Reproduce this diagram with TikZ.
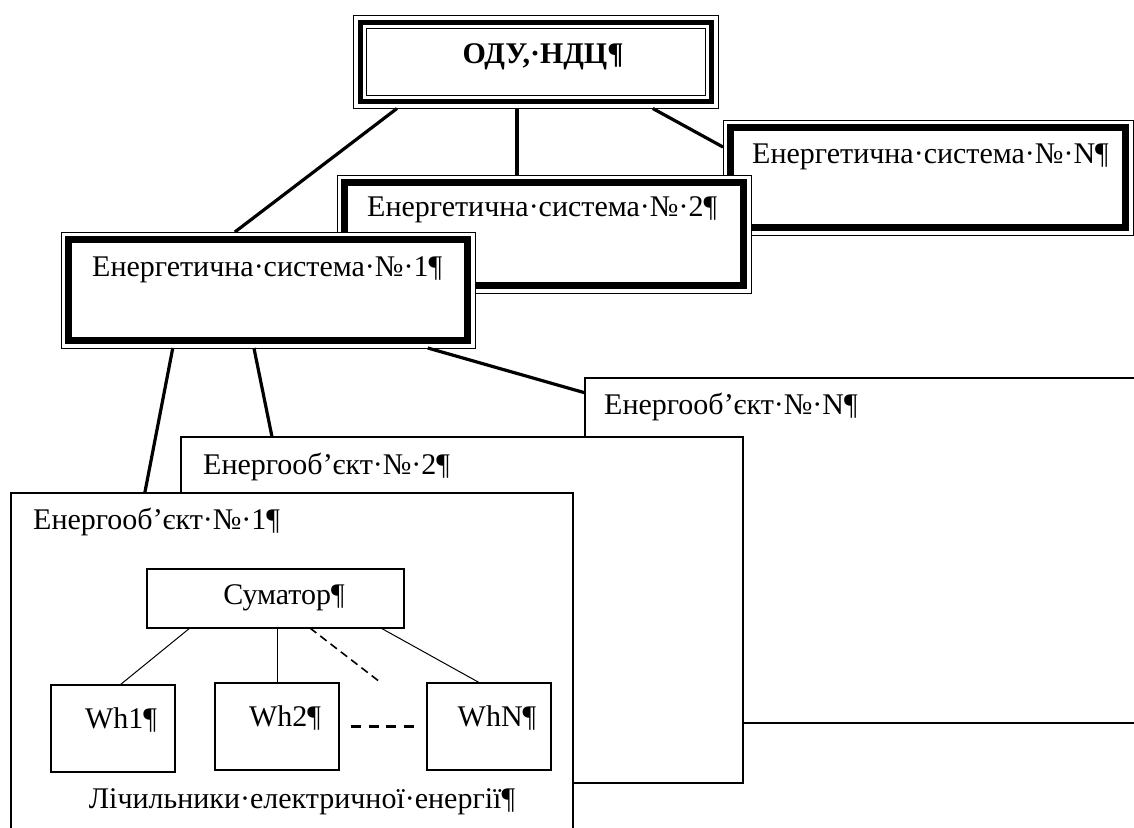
\documentclass[tikz,border=0pt]{standalone}
\usepackage{fontspec}
\setmainfont{Liberation Serif}
\usepackage{tikz}
\usetikzlibrary{calc}

\tikzset{
  odubox/.style={draw, line width=1pt, fill=white, inner sep=0pt, outer sep=0pt, anchor=north west,
    path picture={
      \draw[line width=5pt] ([shift={(7pt,-7pt)}]path picture bounding box.north west) rectangle ([shift={(-7pt,7pt)}]path picture bounding box.south east);
      \draw[line width=1pt] ([shift={(13pt,-13pt)}]path picture bounding box.north west) rectangle ([shift={(-13pt,13pt)}]path picture bounding box.south east);}},
  sysbox/.style={draw, line width=1pt, fill=white, inner sep=0pt, outer sep=0pt, anchor=north west,
    path picture={
      \draw[line width=6.5pt] ([shift={(7.5pt,-7.5pt)}]path picture bounding box.north west) rectangle ([shift={(-7.5pt,7.5pt)}]path picture bounding box.south east);}},
  objbox/.style={draw, line width=2.8pt, fill=white, inner sep=0pt, outer sep=0pt, anchor=north west},
  meter/.style={draw, line width=1.5pt, fill=white, inner sep=0pt, outer sep=0pt, anchor=north west},
  txt/.style={anchor=west, inner sep=0pt},
  link/.style={line width=3.2pt},
  thinlink/.style={line width=1pt}
}

\begin{document}
\begin{tikzpicture}[x=1pt, y=-1pt, font=\fontsize{30pt}{36pt}\selectfont]
\useasboundingbox (0,0) rectangle (1134,827);
\clip (0,0) rectangle (1134,827);
\node[odubox, minimum width=365pt, minimum height=93pt] (odu) at (353.5,15.5) {};
\node[font=\fontsize{30pt}{36pt}\selectfont\bfseries] (odutxt) at (543,57) {ОДУ,·НДЦ¶};
\node[sysbox, minimum width=410pt, minimum height=115pt] (esN) at (723,120) {};
\node[txt] (esNtxt) at (752,157) {Енергетична·система·№·N¶};
\node[sysbox, minimum width=414pt, minimum height=118pt] (es2) at (337,175) {};
\node[txt] (es2txt) at (367,210) {Енергетична·система·№·2¶};
\node[sysbox, minimum width=414pt, minimum height=116pt] (es1) at (61,232) {};
\node[txt] (es1txt) at (92,270) {Енергетична·система·№·1¶};
\node[objbox, minimum width=600pt, minimum height=345pt] (eoN) at (585,378) {};
\node[txt] (eoNtxt) at (604,407) {Енергооб’єкт·№·N¶};
\node[objbox, minimum width=562pt, minimum height=346pt] (eo2) at (181,437) {};
\node[txt] (eo2txt) at (203,467) {Енергооб’єкт·№·2¶};
\node[objbox, minimum width=562pt, minimum height=360pt] (eo1) at (11,493) {};
\node[txt] (eo1txt) at (33,522) {Енергооб’єкт·№·1¶};
\node[meter, minimum width=257pt, minimum height=59pt] (sum) at (147,569) {};
\node (sumtxt) at (284,598) {Суматор¶};
\foreach \i/\x/\y in {1/51/685, 2/215/683, N/427/683} {
  \node[meter, minimum width=124pt, minimum height=87pt] (wh\i) at (\x,\y) {};
  \node (whtxt\i) at ([shift={(70,35)}]wh\i.north west) {Wh\i¶};
}
\node (meters) at (302,802) {Лічильники·електричної·енергії¶};
\draw[link] ($(odu.south west)!0.119!(odu.south east)$) -- ($(es1.north west)!0.42!(es1.north east)$);
\draw[link] ($(odu.south west)!0.448!(odu.south east)$) coordinate (o2) -- (o2 |- es2.north);
\draw[link] ($(odu.south west)!0.82!(odu.south east)$) -- ($(esN.north west)!0.235!(esN.south west)$);
\draw[link] ($(es1.south west)!0.27!(es1.south east)$) -- ($(eo1.north west)!0.238!(eo1.north east)$);
\draw[link] ($(es1.south west)!0.466!(es1.south east)$) -- ($(eo2.north west)!0.162!(eo2.north east)$);
\draw[link] ($(es1.south west)!0.886!(es1.south east)$) -- ($(eoN.north west)!0.043!(eoN.south west)$);
\draw[thinlink] ($(sum.south west)!0.167!(sum.south east)$) -- ($(wh1.north west)!0.556!(wh1.north east)$);
\draw[thinlink] ($(sum.south west)!0.506!(sum.south east)$) coordinate (s2) -- (s2 |- wh2.north);
\coordinate (dashend) at (380,682);
\draw[line width=1.6pt, dash pattern=on 8pt off 5pt] ($(sum.south west)!0.634!(sum.south east)$) -- (dashend);
\draw[thinlink] ($(sum.south west)!0.91!(sum.south east)$) -- ($(whN.north west)!0.427!(whN.north east)$);
\draw[line width=2.4pt, dash pattern=on 10pt off 7.5pt] ([xshift=12pt]wh2.east) -- ([xshift=-13pt]whN.west);
\end{tikzpicture}
\end{document}
